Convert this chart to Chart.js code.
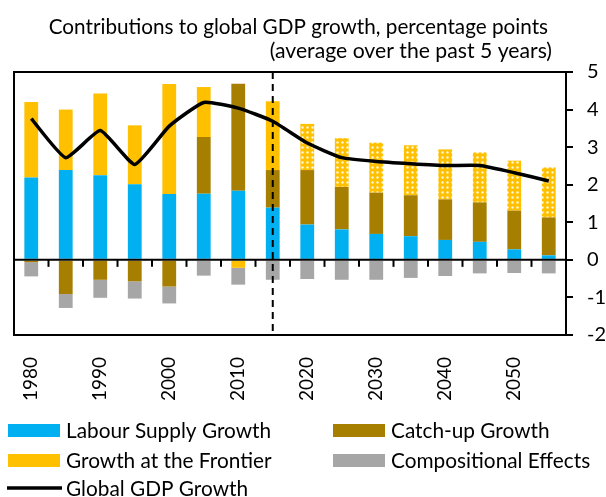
<!DOCTYPE html>
<html>
<head>
<meta charset="utf-8">
<script src="https://cdn.jsdelivr.net/npm/chart.js@4.4.1/dist/chart.umd.min.js"></script>
<style>
    html, body { margin:0; padding:0; background:#fff; }
    #wrap { width:606px; height:497px; }
</style>
</head>
<body>
<div id="wrap"><canvas id="gdp-chart" width="606" height="497"></canvas></div>
<script>

// ---- data ----
const years = ["1980","1985","1990","1995","2000","2005","2010","2015",
               "2020","2025","2030","2035","2040","2045","2050","2055"];

const labourSupply = [2.19, 2.39, 2.25, 2.01, 1.75, 1.76, 1.84, 1.39,
                      0.94, 0.81, 0.69, 0.63, 0.53, 0.48, 0.28, 0.12];

const catchUp = [-0.06, -0.91, -0.53, -0.57, -0.71, 1.51, 2.85, 1.00,
                 1.45, 1.13, 1.10, 1.09, 1.08, 1.05, 1.03, 1.01];

const frontier = [2.01, 1.61, 2.18, 1.57, 2.93, 1.33, -0.21, 1.83,
                  1.23, 1.30, 1.33, 1.33, 1.33, 1.33, 1.33, 1.33];

const compositional = [-0.38, -0.37, -0.48, -0.46, -0.45, -0.42, -0.45, -0.53,
                       -0.51, -0.53, -0.53, -0.48, -0.43, -0.36, -0.35, -0.36];

const gdpGrowth = [3.76, 2.72, 3.44, 2.54, 3.56, 4.19, 4.04, 3.69,
                   3.11, 2.72, 2.62, 2.56, 2.51, 2.51, 2.32, 2.10];

const forecastFrom = "2020";   // projections drawn with dotted fill
const splitYear = "2015";      // dashed divider

const titleLines = [
    "Contributions to global GDP growth, percentage points",
    "(average over the past 5 years)"
];

// ---- colours ----
const BLUE = "#00B0F0";
const YELLOW = "#FFC000";
const BROWN = "#A67F00";
const GREY = "#A6A6A6";

const FONT = "Lato, 'Open Sans', sans-serif";
Chart.defaults.font.family = FONT;
Chart.defaults.color = "#000";


// dotted yellow for projected frontier growth
function dottedYellow(){
    const c = document.createElement("canvas");
    c.width = 5;
    c.height = 5;
    const g = c.getContext("2d");
    g.fillStyle = YELLOW;
    g.fillRect(0, 0, 5, 5);
    g.fillStyle = "#FFF6D8";
    g.beginPath();
    g.arc(2.5, 2.5, 1.2, 0, Math.PI * 2);
    g.fill();
    return g.createPattern(c, "repeat");
}

const dotted = dottedYellow();
const firstForecast = years.indexOf(forecastFrom);
const frontierColors = years.map((y, i) => i >= firstForecast ? dotted : YELLOW);


// frame, zero line with ticks, divider, title and legend
const decorations = {

    id:"decorations",

    afterDatasetsDraw(chart){

        const ctx = chart.ctx;
        const area = chart.chartArea;
        const x = chart.scales.x;
        const y = chart.scales.y;
        const y0 = y.getPixelForValue(0);

        ctx.save();

        // dashed divider
        const xs = x.getPixelForValue(years.indexOf(splitYear));
        ctx.strokeStyle = "#000";
        ctx.lineWidth = 2;
        ctx.setLineDash([7, 5]);
        ctx.beginPath();
        ctx.moveTo(xs, area.top);
        ctx.lineTo(xs, area.bottom);
        ctx.stroke();
        ctx.setLineDash([]);

        // zero line
        ctx.beginPath();
        ctx.moveTo(area.left, y0);
        ctx.lineTo(area.right, y0);
        ctx.stroke();

        // category ticks hanging from zero line
        for(let i = 1; i < years.length; i++){
            const xt = (x.getPixelForValue(i - 1) + x.getPixelForValue(i)) / 2;
            ctx.beginPath();
            ctx.moveTo(xt, y0);
            ctx.lineTo(xt, y0 + 7);
            ctx.stroke();
        }

        // plot frame
        ctx.strokeRect(area.left, area.top, area.right - area.left, area.bottom - area.top);

        ctx.restore();
    },

    afterDraw(chart){

        const ctx = chart.ctx;
        ctx.save();

        // title, right aligned
        ctx.fillStyle = "#000";
        ctx.font = "20.7px " + FONT;
        ctx.textAlign = "right";
        ctx.textBaseline = "alphabetic";
        ctx.fillText(titleLines[0], 548, 34);
        ctx.font = "21.2px " + FONT;
        ctx.fillText(titleLines[1], 552, 58);

        // legend
        const items = [
            { ds:0, col:0, row:0 },
            { ds:1, col:1, row:0 },
            { ds:2, col:0, row:1 },
            { ds:3, col:1, row:1 },
            { ds:4, col:0, row:2 }
        ];
        const colX = [8, 333];
        const rowY = [430.5, 460.5, 488];

        ctx.font = "20.8px " + FONT;
        ctx.textAlign = "left";
        ctx.textBaseline = "middle";

        items.forEach(it => {
            const ds = chart.data.datasets[it.ds];
            const x0 = colX[it.col];
            const yc = rowY[it.row];

            if(ds.type === "line"){
                ctx.strokeStyle = "#000";
                ctx.lineWidth = 3.5;
                ctx.beginPath();
                ctx.moveTo(x0 - 1, yc);
                ctx.lineTo(x0 + 54, yc);
                ctx.stroke();
            } else {
                ctx.fillStyle = ds.legendColor;
                ctx.fillRect(x0, yc - 6.5, 52, 13);
            }

            ctx.fillStyle = "#000";
            ctx.fillText(ds.label, x0 + 58, yc + 1);
        });

        ctx.restore();
    }
};


new Chart(
    document.getElementById("gdp-chart"),
    {
        data:{
            labels: years,
            datasets:[
                {
                    type:"bar",
                    label:"Labour Supply Growth",
                    data: labourSupply,
                    backgroundColor: BLUE,
                    legendColor: BLUE,
                    order: 2
                },
                {
                    type:"bar",
                    label:"Catch-up Growth",
                    data: catchUp,
                    backgroundColor: BROWN,
                    legendColor: BROWN,
                    order: 2
                },
                {
                    type:"bar",
                    label:"Growth at the Frontier",
                    data: frontier,
                    backgroundColor: frontierColors,
                    legendColor: YELLOW,
                    order: 2
                },
                {
                    type:"bar",
                    label:"Compositional Effects",
                    data: compositional,
                    backgroundColor: GREY,
                    legendColor: GREY,
                    order: 2
                },
                {
                    type:"line",
                    label:"Global GDP Growth",
                    data: gdpGrowth,
                    borderColor:"#000",
                    borderWidth:3.5,
                    pointRadius:0,
                    tension:0.15,
                    order: 1
                }
            ]
        },

        options:{
            responsive:false,
            animation:false,
            layout:{
                padding:{ top:72, left:14, right:0, bottom:82 }
            },
            plugins:{
                legend:{ display:false },
                tooltip:{ enabled:false }
            },
            datasets:{
                bar:{
                    categoryPercentage:1,
                    barPercentage:0.4
                }
            },
            scales:{
                x:{
                    stacked:true,
                    grid:{ display:false },
                    border:{ display:false },
                    ticks:{
                        autoSkip:false,
                        minRotation:90,
                        maxRotation:90,
                        padding:14,
                        font:{ size:19 },
                        callback:(v, i) => i % 2 === 0 ? years[i] : ""
                    },
                    afterFit(scale){ scale.height = 80; }
                },
                y:{
                    stacked:true,
                    position:"right",
                    min:-2,
                    max:5,
                    grid:{
                        drawOnChartArea:false,
                        drawTicks:true,
                        tickLength:7,
                        color:"#000",
                        lineWidth:2
                    },
                    border:{ display:true, color:"#000", width:2 },
                    ticks:{
                        stepSize:1,
                        padding:14,
                        font:{ size:20 }
                    },
                    afterFit(scale){ scale.width = 40; }
                }
            }
        },

        plugins:[ decorations ]
    }
);

</script>
</body>
</html>
